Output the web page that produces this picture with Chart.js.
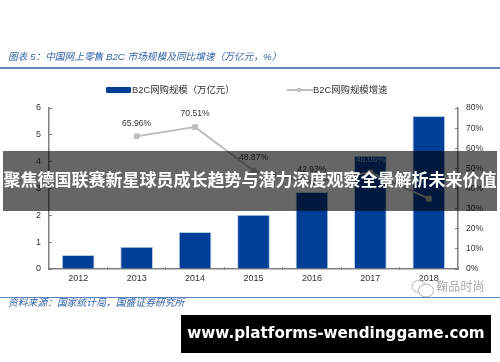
<!DOCTYPE html>
<html>
<head>
<meta charset="utf-8">
<script src="https://cdn.jsdelivr.net/npm/chart.js@4"></script>
<style>
  html, body { margin: 0; padding: 0; background: #fff; }
  #page { position: relative; width: 500px; height: 362px; overflow: hidden; font-family: "Liberation Sans", "Noto Sans CJK SC", sans-serif; }
  #myCanvas { position: absolute; left: 0; top: 0; filter: blur(0.35px); }
  .abs { position: absolute; white-space: nowrap; }
  .title { left: 8px; top: 50px; font-size: 9.7px; line-height: 14px; font-style: italic; color: #2f5fa5; }
  .rule { left: 0; width: 500px; background: #5b86bd; }
  .source { left: 8px; top: 296px; font-size: 9.8px; line-height: 14px; font-style: italic; color: #2f5fa5; }
  .legend { top: 83px; font-size: 9.4px; line-height: 14px; color: #333; }
  .swatchBar { left: 106px; top: 87px; width: 25px; height: 6px; background: #003f98; border-radius: 1px; }
  .swatchLine { left: 287px; top: 89px; width: 26px; height: 2px; background: #bfbfbf; }
  .swatchDot { left: 297px; top: 88px; width: 4px; height: 4px; background: #bfbfbf; }
  .mark { left: 436px; top: 278px; font-size: 12px; line-height: 18px; color: #a9a9a9; letter-spacing: 0.2px; }
  .band { left: 3px; top: 151px; width: 494px; height: 60px; background: rgba(0, 0, 0, 0.6); }
  .bandText { left: 3px; top: 151px; width: 494px; height: 60px; line-height: 60px; text-align: center; font-size: 17px; font-weight: bold; color: #fff; }
  .urlBox { left: 181px; top: 315px; width: 310px; height: 38px; background: #000; }
  .urlText { left: 181px; top: 315px; width: 310px; height: 38px; line-height: 37px; text-align: center; font-family: "DejaVu Sans", sans-serif; font-size: 15.2px; font-weight: bold; color: #fff; }
</style>
</head>
<body>
<div id="page">
  <canvas id="myCanvas" width="500" height="362"></canvas>

  <div class="abs title">图表 5：中国网上零售 B2C 市场规模及同比增速（万亿元，%）</div>
  <div class="abs rule" style="top:67px;height:2px"></div>

  <div class="abs swatchBar"></div>
  <div class="abs legend" style="left:132px">B2C网购规模（万亿元）</div>
  <div class="abs swatchLine"></div>
  <div class="abs swatchDot"></div>
  <div class="abs legend" style="left:313px">B2C网购规模增速</div>

  <svg class="abs" style="left:410px;top:279px" width="26" height="20" fill="#fff" stroke="#b5b5b5" stroke-width="1">
    <ellipse cx="9" cy="7.5" rx="7" ry="6"></ellipse>
    <ellipse cx="16" cy="11.5" rx="7.5" ry="6.5"></ellipse>
  </svg>
  <div class="abs mark">鞠品时尚</div>

  <div class="abs rule" style="top:297px;height:1px"></div>
  <div class="abs source">资料来源：国家统计局，国盛证券研究所</div>

  <div class="abs band"></div>
  <div class="abs bandText">聚焦德国联赛新星球员成长趋势与潜力深度观察全景解析未来价值</div>
  <div class="abs urlBox"></div>
  <div class="abs urlText">www.platforms-wendinggame.com</div>
</div>

<script>
const years = ["2012", "2013", "2014", "2015", "2016", "2017", "2018"];
const marketSize = [0.52, 0.83, 1.38, 2.02, 2.87, 4.22, 5.7];
const growthRate = [null, 65.96, 70.51, 48.87, 42.93, 48.06, 35];
const growthLabels = ["", "65.96%", "70.51%", "48.87%", "42.93%", "48.06%", ""];
const sizeName = "B2C网购规模（万亿元）";
const growthName = "B2C网购规模增速";

// labels over the line, 2017 sits on top of its bar so it goes lighter
const pointLabels = {
  id: "pointLabels",
  afterDatasetsDraw(chart) {
    const ctx = chart.ctx;
    const points = chart.getDatasetMeta(0).data;
    ctx.save();
    ctx.font = '8.6px "Liberation Sans"';
    ctx.textAlign = "center";
    ctx.textBaseline = "middle";
    points.forEach((pt, i) => {
      if (!growthLabels[i]) return;
      ctx.fillStyle = i === 5 ? "#9db4d8" : "#333";
      ctx.fillText(growthLabels[i], pt.x, pt.y - 13);
    });
    ctx.restore();
  },
};

const axisGrey = "#808080";

new Chart(document.getElementById("myCanvas"), {
  data: {
    labels: years,
    datasets: [
      {
        type: "line",
        label: growthName,
        data: growthRate,
        yAxisID: "y1",
        borderColor: "#bfbfbf",
        backgroundColor: "#bfbfbf",
        borderWidth: 2,
        pointStyle: "rect",
        pointRadius: 2.6,
        tension: 0,
        order: 1,
      },
      {
        type: "bar",
        label: sizeName,
        data: marketSize,
        yAxisID: "y",
        backgroundColor: "#003f98",
        borderColor: "#b9cde5",
        borderWidth: 1,
        barPercentage: 0.56,
        categoryPercentage: 1,
        order: 2,
      },
    ],
  },
  options: {
    responsive: false,
    animation: false,
    layout: { padding: { left: 19, right: 12, top: 108, bottom: 71 } },
    plugins: { legend: { display: false }, tooltip: { enabled: false } },
    scales: {
      x: {
        afterFit: (s) => { s.height = 22; },
        border: { color: axisGrey, width: 1.5 },
        grid: { drawOnChartArea: false, tickLength: -2, tickColor: axisGrey },
        ticks: { color: "#333", padding: 6, font: { size: 9, family: "Liberation Sans" } },
      },
      y: {
        position: "left",
        min: 0,
        max: 6,
        afterFit: (s) => { s.width = 30; },
        border: { color: axisGrey, width: 1.5 },
        grid: { drawOnChartArea: false, tickLength: -3, tickColor: axisGrey },
        ticks: { stepSize: 1, color: "#333", padding: 11, font: { size: 9, family: "Liberation Sans" } },
      },
      y1: {
        position: "right",
        min: 0,
        max: 80,
        afterFit: (s) => { s.width = 30; },
        border: { color: axisGrey, width: 1.5 },
        grid: { drawOnChartArea: false, tickLength: -3, tickColor: axisGrey },
        ticks: { stepSize: 10, callback: (v) => v + "%", color: "#333", padding: 11, font: { size: 8.6, family: "Liberation Sans" } },
      },
    },
  },
  plugins: [pointLabels],
});
</script>
</body>
</html>
